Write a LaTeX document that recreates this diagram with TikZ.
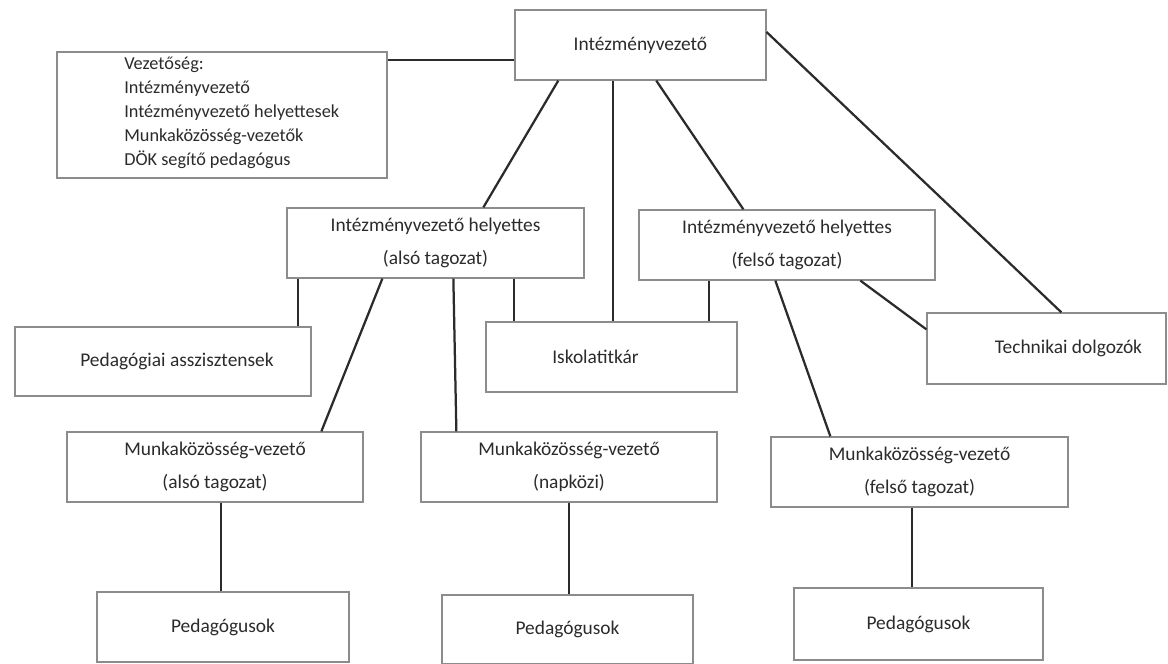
\documentclass[tikz,border=0pt]{standalone}
\usepackage{fontspec}
\setmainfont{Carlito}
\usepackage{xcolor}
\usepackage{tikz}
\usetikzlibrary{positioning,calc}
\definecolor{ink}{HTML}{2B2B2B}
\definecolor{frame}{HTML}{8C8C8C}

\begin{document}
\begin{tikzpicture}[
    box/.style={rectangle, draw=frame, line width=0.9pt, fill=white, text=ink, align=center, font=\fontsize{13.8}{23.5}\selectfont, inner sep=2pt},
    link/.style={draw=ink, line width=1.6pt}
]
    \useasboundingbox (0,0) rectangle (29.2,16.6);

    % top level
    \node[box, minimum width=6.275cm, minimum height=1.75cm] (head) at (16.01,15.475) {Intézményvezető};
    \node[box, minimum width=8.25cm, minimum height=3.15cm] (board) at (5.55,13.725) {};
    \node[anchor=west, align=left, text=ink, inner sep=0pt, font=\fontsize{13}{17}\selectfont] (boardtext) at (3.1,13.775) {Vezetőség:\\Intézményvezető\\Intézményvezető helyettesek\\Munkaközösség-vezetők\\DÖK segítő pedagógus};

    % deputies
    \node[box, minimum width=7.425cm, minimum height=1.75cm] (deplower) at (10.8875,10.525) {Intézményvezető helyettes\\(alsó tagozat)};
    \node[box, minimum width=7.4cm, minimum height=1.75cm] (depupper) at (19.675,10.475) {Intézményvezető helyettes\\(felső tagozat)};

    % staff
    \node[box, minimum width=7.4cm, minimum height=1.725cm] (assist) at (4.075,7.5625) {\hspace*{0.7cm}Pedagógiai asszisztensek};
    \node[box, minimum width=6.275cm, minimum height=1.75cm] (secretary) at (15.2875,7.675) {Iskolatitkár\hspace*{0.8cm}};
    \node[box, minimum width=5.975cm, minimum height=1.775cm] (technical) at (26.1625,7.8875) {\hspace*{1.1cm}Technikai dolgozók};

    % work groups
    \node[box, minimum width=7.4cm, minimum height=1.75cm] (wglower) at (5.375,4.925) {Munkaközösség-vezető\\(alsó tagozat)};
    \node[box, minimum width=7.4cm, minimum height=1.75cm] (wgday) at (14.225,4.925) {Munkaközösség-vezető\\(napközi)};
    \node[box, minimum width=7.425cm, minimum height=1.75cm] (wgupper) at (22.9875,4.8) {Munkaközösség-vezető\\(felső tagozat)};

    % teachers
    \node[box, minimum width=6.3cm, minimum height=1.75cm] (teachlower) at (5.575,0.925) {Pedagógusok};
    \node[box, minimum width=6.275cm, minimum height=1.725cm] (teachday) at (14.1875,0.8625) {Pedagógusok};
    \node[box, minimum width=6.225cm, minimum height=1.8cm] (teachupper) at (22.9625,1.0) {Pedagógusok};

    % links from the head
    \coordinate (boardout) at ([yshift=-0.225cm]board.north east);
    \draw[link] (boardout) -- (boardout -| head.west);
    \draw[link] ([xshift=1.1cm]head.south west) -- ([xshift=4.925cm]deplower.north west);
    \coordinate (headdown) at ([xshift=2.475cm]head.south west);
    \draw[link] (headdown) -- (headdown |- secretary.north);
    \draw[link] ([xshift=3.55cm]head.south west) -- ([xshift=2.625cm]depupper.north west);
    \draw[link] ([yshift=0.325cm]head.east) -- ([xshift=3.375cm]technical.north west);

    % links from the lower deputy
    \coordinate (lowassist) at ([xshift=0.3cm]deplower.south west);
    \draw[link] (lowassist) -- (lowassist |- assist.north);
    \coordinate (lowsecretary) at ([xshift=0.725cm]secretary.north west);
    \draw[link] (lowsecretary |- deplower.south) -- (lowsecretary);
    \draw[link] ([xshift=2.4cm]deplower.south west) -- ([xshift=6.375cm]wglower.north west);
    \draw[link] ([xshift=4.175cm]deplower.south west) -- ([xshift=0.9cm]wgday.north west);

    % links from the upper deputy
    \coordinate (upsecretary) at ([xshift=1.775cm]depupper.south west);
    \draw[link] (upsecretary) -- (upsecretary |- secretary.north);
    \draw[link] ([xshift=5.55cm]depupper.south west) -- ([yshift=-0.425cm]technical.north west);
    \draw[link] ([xshift=3.425cm]depupper.south west) -- ([xshift=1.5cm]wgupper.north west);

    % work groups to teachers
    \coordinate (lowteach) at ([xshift=0.15cm]wglower.south);
    \draw[link] (lowteach) -- (lowteach |- teachlower.north);
    \draw[link] (wgday.south) -- (wgday.south |- teachday.north);
    \coordinate (upteach) at ([xshift=-0.19cm]wgupper.south);
    \draw[link] (upteach) -- (upteach |- teachupper.north);
\end{tikzpicture}
\end{document}
